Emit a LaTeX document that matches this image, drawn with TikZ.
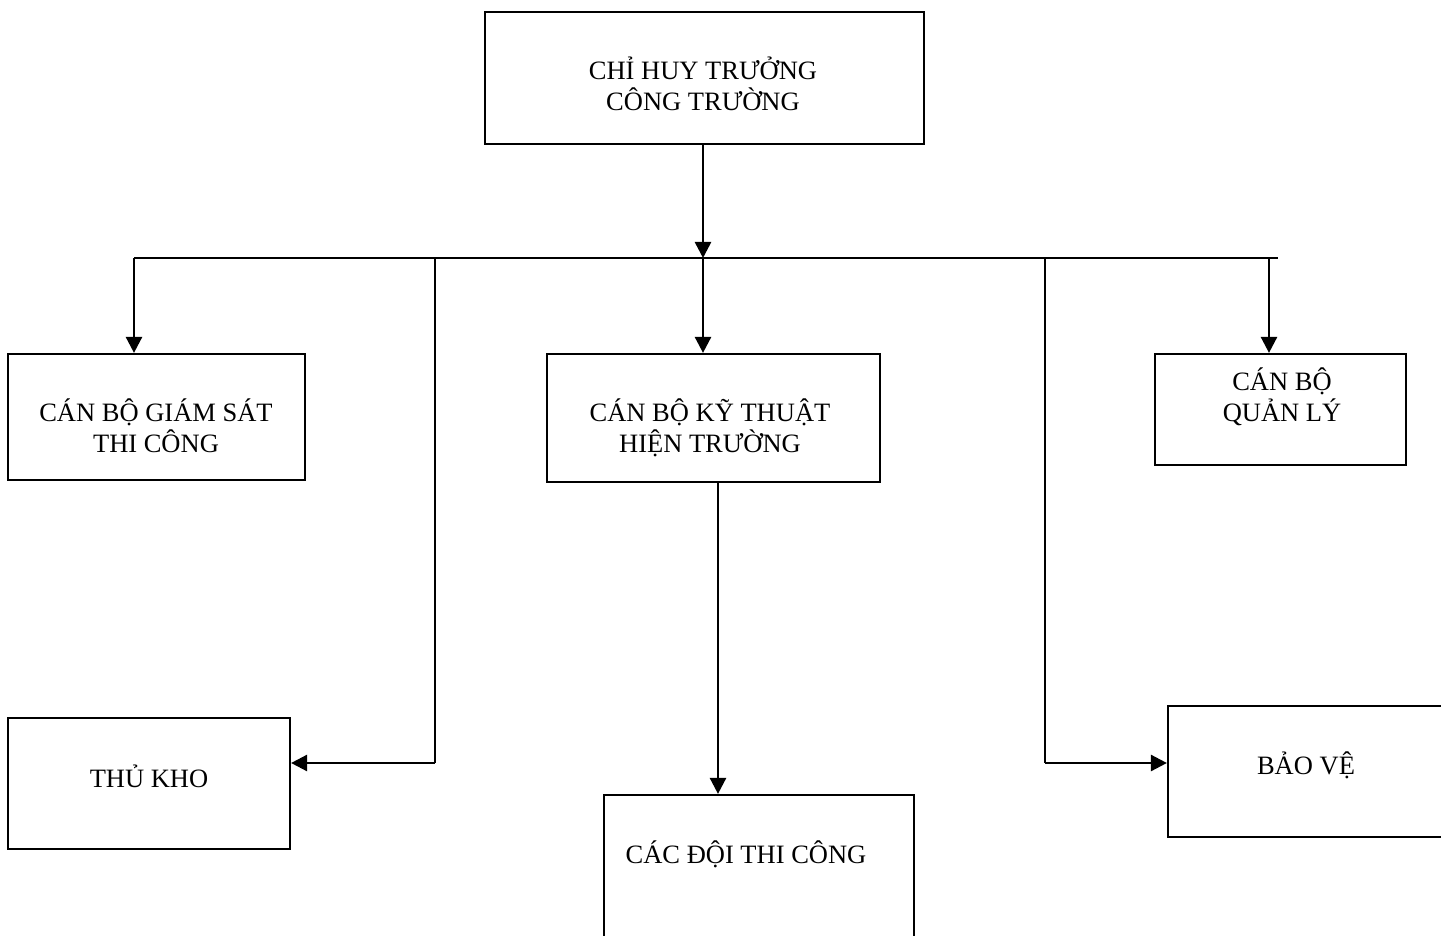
\documentclass[tikz,border=0pt]{standalone}
\usepackage{fontspec}
\setmainfont{Liberation Serif}
\usetikzlibrary{arrows.meta,fit}
\begin{document}
\begin{tikzpicture}[x=0.5pt,y=-0.5pt,
  box/.style={draw,line width=1.1pt,inner sep=0pt,rectangle},
  lbl/.style={font=\fontsize{13.25}{15.5}\selectfont,align=center,inner sep=0pt},
  conn/.style={line width=1.3pt},
  thin/.style={line width=0.9pt},
  arr/.style={-{Triangle[length=8pt,width=8pt]}}]
\useasboundingbox (0,0) rectangle (1441,936);
% boxes
\node[box,fit={(485,12) (924,144)}] (top) {};
\node[box,fit={(8,354) (305,480)}] (gs) {};
\node[box,fit={(547,354) (880,482)}] (kt) {};
\node[box,fit={(1155,354) (1406,465)}] (ql) {};
\node[box,fit={(8,718) (290,849)}] (kho) {};
\node[box,fit={(1168,706) (1445,837)}] (bv) {};
\node[box,fit={(604,795) (914,950)}] (doi) {};
% labels
\node[lbl] (ttop) at (703,84) {CHỈ HUY TRƯỞNG\\CÔNG TRƯỜNG};
\node[lbl] (tgs) at (156,426) {CÁN BỘ GIÁM SÁT\\THI CÔNG};
\node[lbl] (tkt) at (710,428) {CÁN BỘ KỸ THUẬT\\HIỆN TRƯỜNG};
\node[lbl] (tql) at (1282,397) {CÁN BỘ\\QUẢN LÝ};
\node[lbl] (tkho) at (149,776) {THỦ KHO};
\node[lbl] (tbv) at (1306,765) {BẢO VỆ};
\node[lbl] (tdoi) at (746,854) {CÁC ĐỘI THI CÔNG};
% bus coordinates
\coordinate (busL) at (134,258);
\coordinate (busR) at (1278,258);
\coordinate (busC) at (703,258);
\coordinate (busK) at (435,258);
\coordinate (busB) at (1045,258);
\coordinate (busQ) at (1269,258);
\coordinate (kd) at (718,482);
\coordinate (kneeK) at (435,763);
\coordinate (kneeB) at (1045,763);
% connectors
\draw[conn,arr] (top.south -| busC) -- (busC);
\draw[conn] (busL) -- (busR);
\draw[conn,arr] (busL) -- (busL |- gs.north);
\draw[conn,arr] (busC) -- (busC |- kt.north);
\draw[conn,arr] (busQ) -- (busQ |- ql.north);
\draw[conn,arr] (kd) -- (kd |- doi.north);
\draw[thin] (busK) -- (kneeK);
\draw[conn,arr] (kneeK) -- (kneeK -| kho.east);
\draw[thin] (busB) -- (kneeB);
\draw[conn,arr] (kneeB) -- (kneeB -| bv.west);
\end{tikzpicture}
\end{document}
